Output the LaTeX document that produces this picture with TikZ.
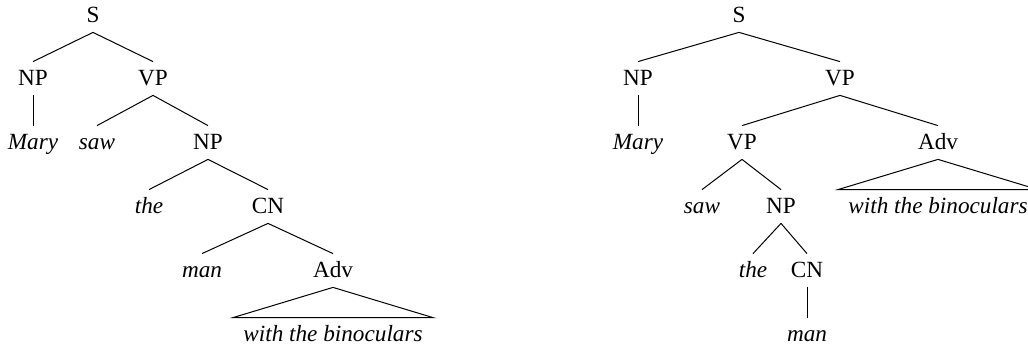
\documentclass[tikz,border=0pt]{standalone}
\usepackage{fontspec}
\setmainfont{Liberation Serif}
\usetikzlibrary{calc}
\tikzset{
  cat/.style={font=\fontsize{11.6}{14}\selectfont, inner sep=0pt, text height=12pt, text depth=4.5pt, anchor=base},
  word/.style={cat, font=\fontsize{11.6}{14}\selectfont\itshape},
  edge/.style={line width=0.5pt},
}
\begin{document}
\begin{tikzpicture}[x=0.5pt,y=-0.5pt]
\useasboundingbox (0,0) rectangle (1028,347);
% ---------- left tree ----------
\node[cat]  (lS)    at (93,23)  {S};
\node[cat]  (lNP)   at (33,86)  {NP};
\node[cat]  (lVP)   at (153,86) {VP};
\node[word] (lMary) at (33,150) {Mary};
\node[word] (lsaw)  at (97,150) {saw};
\node[cat]  (lNP2)  at (208,150) {NP};
\node[word] (lthe)  at (149,214) {the};
\node[cat]  (lCN)   at (268,214) {CN};
\node[word] (lman)  at (202,278) {man};
\node[cat]  (lAdv)  at (333,278) {Adv};
\node[word] (lwith) at (333,342) {with the binoculars};
\draw[edge] (lS.south) -- (lNP.north);
\draw[edge] (lS.south) -- (lVP.north);
\draw[edge] (lNP.south) -- (lMary.north);
\draw[edge] (lVP.south) -- (lsaw.north);
\draw[edge] (lVP.south) -- (lNP2.north);
\draw[edge] (lNP2.south) -- (lthe.north);
\draw[edge] (lNP2.south) -- (lCN.north);
\draw[edge] (lCN.south) -- (lman.north);
\draw[edge] (lCN.south) -- (lAdv.north);
\draw[edge] (lAdv.south) -- ([xshift=-5pt]lwith.north west) -- ([xshift=5pt]lwith.north east) -- cycle;
% ---------- right tree ----------
\node[cat]  (rS)    at (739,23)  {S};
\node[cat]  (rNP)   at (638,86)  {NP};
\node[cat]  (rVP)   at (840,86)  {VP};
\node[word] (rMary) at (638,150) {Mary};
\node[cat]  (rVP2)  at (742,150) {VP};
\node[cat]  (rAdv)  at (938,150) {Adv};
\node[word] (rsaw)  at (702,214) {saw};
\node[cat]  (rNP2)  at (781,214) {NP};
\node[word] (rwith) at (938,214) {with the binoculars};
\node[word] (rthe)  at (753,278) {the};
\node[cat]  (rCN)   at (807,278) {CN};
\node[word] (rman)  at (807,342) {man};
\draw[edge] (rS.south) -- (rNP.north);
\draw[edge] (rS.south) -- (rVP.north);
\draw[edge] (rNP.south) -- (rMary.north);
\draw[edge] (rVP.south) -- (rVP2.north);
\draw[edge] (rVP.south) -- (rAdv.north);
\draw[edge] (rVP2.south) -- (rsaw.north);
\draw[edge] (rVP2.south) -- (rNP2.north);
\draw[edge] (rNP2.south) -- (rthe.north);
\draw[edge] (rNP2.south) -- (rCN.north);
\draw[edge] (rCN.south) -- (rman.north);
\draw[edge] (rAdv.south) -- ([xshift=-5pt]rwith.north west) -- ([xshift=5pt]rwith.north east) -- cycle;
\end{tikzpicture}
\end{document}
